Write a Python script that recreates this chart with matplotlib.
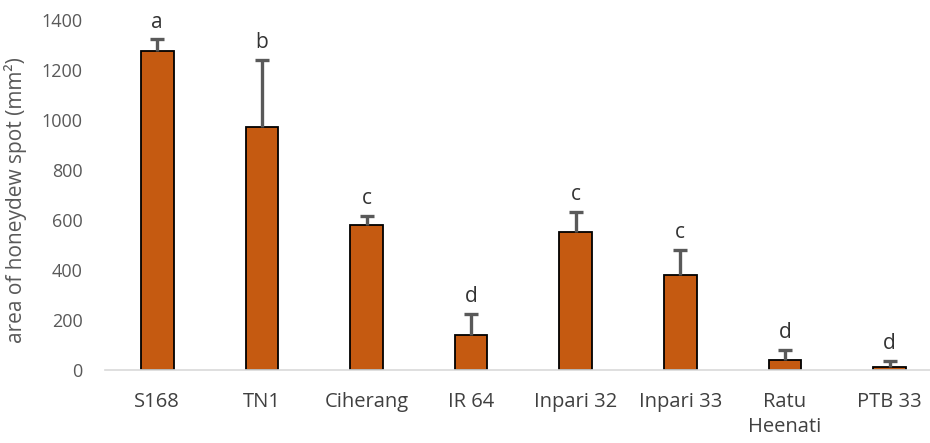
import matplotlib
matplotlib.use("Agg")
import matplotlib.pyplot as plt
import numpy as np

varieties = ["S168", "TN1", "Ciherang", "IR 64", "Inpari 32", "Inpari 33", "Ratu\nHeenati", "PTB 33"]
spot_area = [1276, 972, 580, 140, 552, 380, 40, 13]
spot_err = [48, 268, 36, 84, 80, 100, 40, 24]
groups = ["a", "b", "c", "d", "c", "c", "d", "d"]

plt.rcParams["font.family"] = ["Open Sans", "DejaVu Sans"]
grey = "#595959"

fig = plt.figure(figsize=(9.3, 4.43), dpi=100)
ax = fig.add_axes([105 / 930, 73 / 443, 825 / 930, 350 / 443])

x = np.arange(len(varieties))
tops = np.array(spot_area) + np.array(spot_err)
ax.bar(x, spot_area, width=0.31, color="#C55A11", edgecolor="black", linewidth=1.3, zorder=2)
# upper error bars only, no cap on the bar top
ax.vlines(x, spot_area, tops, colors=grey, linewidth=2.4, zorder=3)
ax.plot(x, tops, linestyle="none", marker="_", markersize=10, markeredgewidth=2.4,
        color=grey, zorder=3)

for xi, t, g in zip(x, tops, groups):
    ax.text(xi, t + 26, g, ha="center", va="bottom", fontsize=15, color="#333333")

ax.set_xlim(-0.5, -0.5 + 825 / 104.6)
ax.set_ylim(0, 1400)
ax.set_yticks(range(0, 1401, 200))
ax.set_xticks(x)
ax.set_xticklabels(varieties, color="#404040", linespacing=1.35)
ax.tick_params(axis="both", length=0, colors=grey, labelsize=13)
ax.tick_params(axis="x", pad=16, colors="#404040", labelsize=14.5)
ax.tick_params(axis="y", pad=16)
for s in ["top", "right", "left"]:
    ax.spines[s].set_visible(False)
ax.spines["bottom"].set_color("#d9d9d9")
ax.spines["bottom"].set_linewidth(1.2)

ax.set_ylabel("area of honeydew spot (mm²)", fontsize=15, color=grey)
ax.yaxis.set_label_coords(-0.094, 0.486)

fig.savefig("out.png", dpi=100)
